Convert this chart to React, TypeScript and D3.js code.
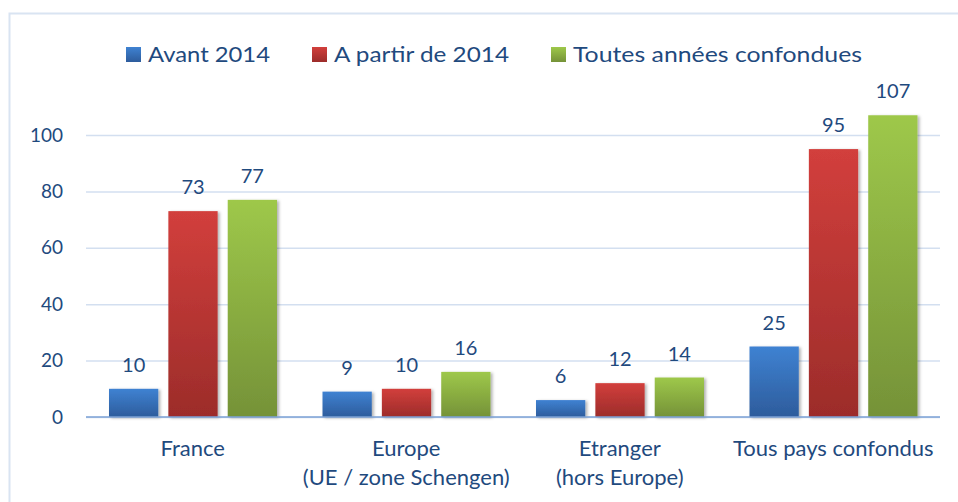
import { useRef, useEffect } from "react";
import { select, scaleBand, scaleLinear, axisLeft } from "d3";

const categories = ["France", "Europe", "Etranger", "Tous pays confondus"];
const categoryLines = [["France"], ["Europe", "(UE / zone Schengen)"], ["Etranger", "(hors Europe)"], ["Tous pays confondus"]];
const seriesNames = ["Avant 2014", "A partir de 2014", "Toutes années confondues"];
const avant2014 = [10, 9, 6, 25];
const aPartir2014 = [73, 10, 12, 95];
const toutesAnnees = [77, 16, 14, 107];
const yTicks = [0, 20, 40, 60, 80, 100];

const gradients = [
  ["#3f82d2", "#2d5c9c"],
  ["#d23f3c", "#9c2c2a"],
  ["#9ec84a", "#759238"],
];
const textColor = "#1f4a7e";
const font = "Lato, 'Open Sans', sans-serif";

export default function App() {
  const svgRef = useRef<SVGSVGElement>(null);

  useEffect(() => {
    const svg = select(svgRef.current);
    svg.selectAll("*").remove();
    const series = [avant2014, aPartir2014, toutesAnnees];

    const defs = svg.append("defs");
    gradients.forEach((g, i) => {
      const lg = defs.append("linearGradient").attr("id", "grad" + i)
        .attr("x1", 0).attr("y1", 0).attr("x2", 0).attr("y2", 1);
      lg.append("stop").attr("offset", "0%").attr("stop-color", g[0]);
      lg.append("stop").attr("offset", "100%").attr("stop-color", g[1]);
    });
    const f = defs.append("filter").attr("id", "shadow")
      .attr("x", "-20%").attr("y", "-20%").attr("width", "150%").attr("height", "150%");
    f.append("feDropShadow").attr("dx", 2).attr("dy", 1).attr("stdDeviation", 1.5)
      .attr("flood-color", "#000").attr("flood-opacity", 0.3);

    // frame
    svg.append("rect").attr("x", 9.5).attr("y", 13.5).attr("width", 1000).attr("height", 600)
      .attr("fill", "none").attr("stroke", "#d9e4f2").attr("stroke-width", 2);

    const x0 = scaleBand().domain(categories).range([86, 940]);
    const x1 = scaleBand().domain(seriesNames).range([23, 191]).paddingInner(0.17);
    const y = scaleLinear().domain([0, 100]).range([417, 135]);

    // grid + y labels
    const yAxis = axisLeft(y).tickValues(yTicks).tickSize(-(940 - 86)).tickPadding(23);
    const ga = svg.append("g").attr("transform", "translate(86,0)").call(yAxis);
    ga.select(".domain").remove();
    ga.selectAll(".tick line").attr("stroke", "#d3dff0").attr("stroke-width", 1.5);
    ga.selectAll(".tick text").attr("fill", textColor).attr("font-family", font)
      .attr("font-size", 19);

    // bars
    series.forEach((vals, si) => {
      svg.append("g").selectAll("rect").data(vals).join("rect")
        .attr("x", (d, i) => x0(categories[i])! + x1(seriesNames[si])!)
        .attr("y", (d) => y(d))
        .attr("width", x1.bandwidth())
        .attr("height", (d) => y(0) - y(d))
        .attr("fill", `url(#grad${si})`)
        .attr("filter", "url(#shadow)");
      svg.append("g").selectAll("text").data(vals).join("text")
        .attr("x", (d, i) => x0(categories[i])! + x1(seriesNames[si])! + x1.bandwidth() / 2)
        .attr("y", (d) => y(d) - 17)
        .attr("text-anchor", "middle")
        .attr("fill", textColor).attr("font-family", font).attr("font-size", 20)
        .text((d) => d);
    });

    // baseline
    svg.append("line").attr("x1", 86).attr("x2", 940).attr("y1", y(0)).attr("y2", y(0))
      .attr("stroke", "#7da2d6").attr("stroke-width", 1.5);

    // category labels
    categories.forEach((c, i) => {
      const t = svg.append("text")
        .attr("x", x0(c)! + x0.bandwidth() / 2)
        .attr("y", 456)
        .attr("text-anchor", "middle")
        .attr("fill", textColor).attr("font-family", font).attr("font-size", 22);
      categoryLines[i].forEach((line, li) => {
        t.append("tspan").attr("x", x0(c)! + x0.bandwidth() / 2)
          .attr("dy", li === 0 ? 0 : 29).text(line);
      });
    });

    // legend
    const legendX = [126, 312, 551];
    const legendW = [122, 175, 289];
    seriesNames.forEach((s, i) => {
      svg.append("rect").attr("x", legendX[i]).attr("y", 47).attr("width", 15).attr("height", 15)
        .attr("fill", `url(#grad${i})`);
      svg.append("text").attr("x", legendX[i] + 22).attr("y", 62)
        .attr("fill", textColor).attr("font-family", font).attr("font-size", 22)
        .attr("textLength", legendW[i]).attr("lengthAdjust", "spacingAndGlyphs")
        .text(s);
    });
  }, []);

  return (
    <svg ref={svgRef} width={958} height={502}
      style={{ position: "absolute", left: 0, top: 0, background: "#fff" }} />
  );
}
